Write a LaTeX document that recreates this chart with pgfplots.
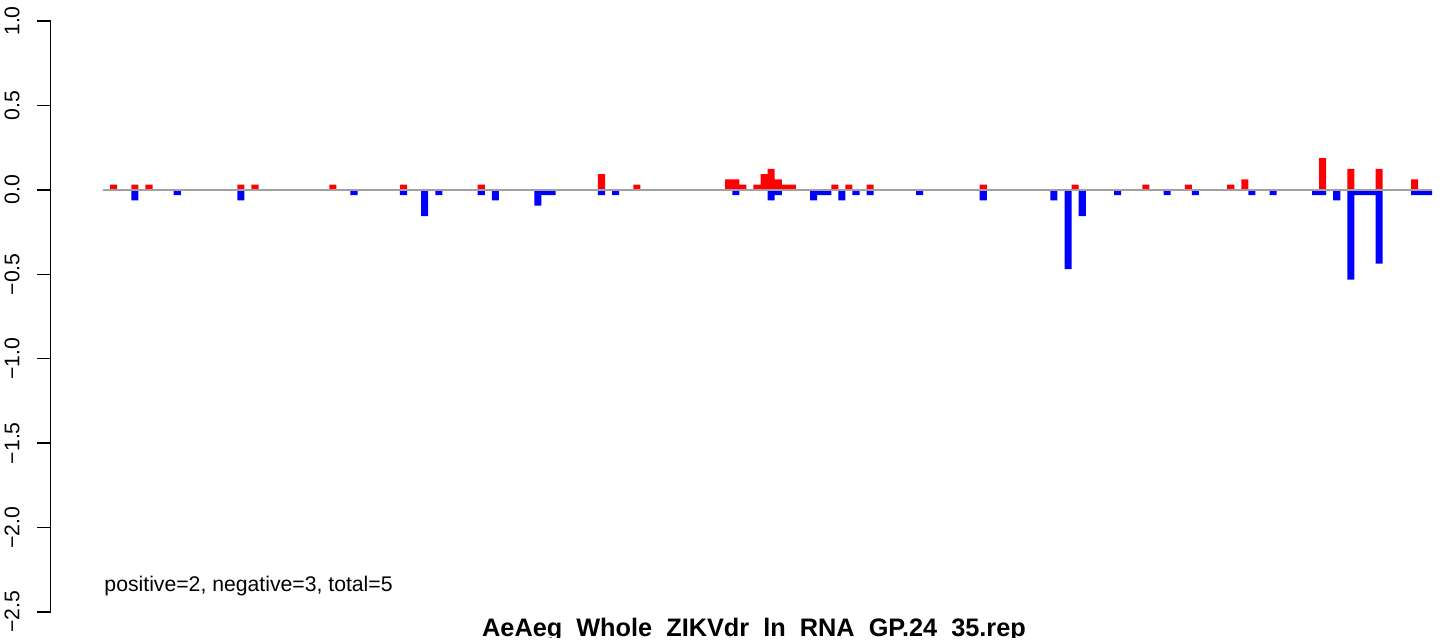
\documentclass[border=0pt]{standalone}
\usepackage{pgfplots}
\pgfplotsset{compat=1.18}
\usepackage{fontspec}
\setmainfont{Liberation Sans}
\definecolor{zline}{RGB}{160,160,160}
\begin{document}
\begin{tikzpicture}
\useasboundingbox (0,0) rectangle (724.5pt,319.5pt);
\begin{axis}[
  at={(25.35pt,13.5pt)}, anchor=south west,
  scale only axis, width=690.75pt, height=295.5pt,
  xmin=-7.9, xmax=187.5, ymin=-2.5, ymax=1.0,
  axis x line=none, axis y line*=left,
  axis line style={black, line width=0.7pt},
  ytick={-2.5,-2,-1.5,-1,-0.5,0,0.5,1},
  yticklabels={−2.5,−2.0,−1.5,−1.0,−0.5,0.0,0.5,1.0},
  tick align=outside, major tick length=6.85pt,
  tick style={black, line width=0.7pt},
  yticklabel shift=8.5pt,
  yticklabel style={rotate=90, anchor=south, inner sep=0pt, font=\fontsize{10.6}{12}\selectfont},
  clip=false,
]
\addplot[ybar, bar width=1, bar shift=0pt, fill=red, draw=none] coordinates {
(1,0.03125) (4,0.03125) (6,0.03125) (19,0.03125) (21,0.03125) (32,0.03125)
(42,0.03125) (53,0.03125) (70,0.09375) (75,0.03125)
(88,0.0625) (89,0.0625) (90,0.03125) (92,0.03125) (93,0.09375) (94,0.125)
(95,0.0625) (96,0.03125) (97,0.03125) (103,0.03125) (105,0.03125) (108,0.03125)
(124,0.03125) (137,0.03125) (147,0.03125) (153,0.03125) (159,0.03125) (161,0.0625)
(172,0.1875) (176,0.125) (180,0.125) (185,0.0625)
};
\addplot[ybar, bar width=1, bar shift=0pt, fill=blue, draw=none] coordinates {
(4,-0.0625) (10,-0.03125) (19,-0.0625) (35,-0.03125) (42,-0.03125) (45,-0.15625)
(47,-0.03125) (53,-0.03125) (55,-0.0625) (61,-0.09375) (62,-0.03125) (63,-0.03125)
(70,-0.03125) (72,-0.03125) (89,-0.03125) (94,-0.0625) (95,-0.03125)
(100,-0.0625) (101,-0.03125) (102,-0.03125) (104,-0.0625) (106,-0.03125)
(108,-0.03125) (115,-0.03125) (124,-0.0625) (134,-0.0625) (136,-0.46875)
(138,-0.15625) (143,-0.03125) (150,-0.03125) (154,-0.03125) (162,-0.03125)
(165,-0.03125) (171,-0.03125) (172,-0.03125) (174,-0.0625) (176,-0.53125)
(177,-0.03125) (178,-0.03125) (179,-0.03125) (180,-0.4375) (185,-0.03125)
(186,-0.03125) (187,-0.03125)
};
\addplot[zline, line width=0.75pt] coordinates {(-0.5,0) (187.5,0)};
\node[anchor=base west, inner sep=0pt, font=\fontsize{10.6}{12}\selectfont] at (axis cs:-0.35,-2.380) {positive=2, negative=3, total=5};
\end{axis}
\begin{scope}
\clip (0,0.8pt) rectangle (724.5pt,319.5pt);
\node[anchor=base, inner sep=0pt, font=\fontsize{12.65}{14}\selectfont\bfseries] at (377pt,1.5pt) {AeAeg\_Whole\_ZIKVdr\_ln\_RNA\_GP.24\_35.rep};
\end{scope}
\end{tikzpicture}
\end{document}
